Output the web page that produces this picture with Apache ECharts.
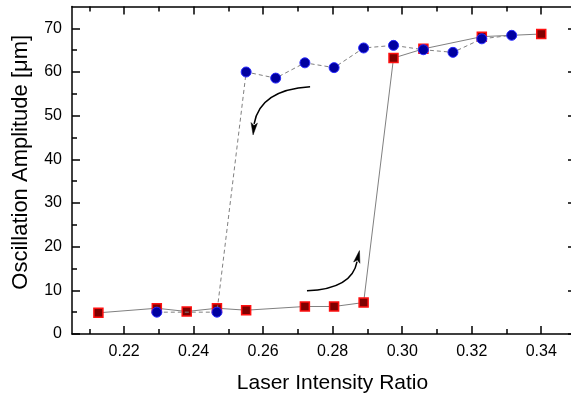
<!DOCTYPE html>
<html>
<head>
<meta charset="utf-8">
<script src="https://cdn.jsdelivr.net/npm/echarts@6/dist/echarts.min.js"></script>
<style>html,body{margin:0;padding:0;background:#fff;}#c{width:571px;height:398px;}</style>
</head>
<body>
<div id="c"></div>
<script>
// ---- data ----
const redX = [0.2126, 0.2294, 0.2380, 0.2467, 0.2551, 0.2720, 0.2804, 0.2889, 0.2975, 0.3061, 0.3229, 0.3400];
const redY = [4.85, 5.9, 5.15, 5.9, 5.45, 6.3, 6.3, 7.2, 63.2, 65.3, 68.1, 68.7];
const blueX = [0.2294, 0.2467, 0.2551, 0.2636, 0.2720, 0.2804, 0.2889, 0.2975, 0.3061, 0.3146, 0.3229, 0.3315];
const blueY = [5.0, 5.0, 60.0, 58.6, 62.1, 61.0, 65.5, 66.1, 65.1, 64.5, 67.6, 68.4];
const xMajorTicks = [0.22, 0.24, 0.26, 0.28, 0.30, 0.32, 0.34];
const xMinorTicks = [0.21, 0.23, 0.25, 0.27, 0.29, 0.31, 0.33];
const yMajorTicks = [0, 10, 20, 30, 40, 50, 60, 70];
const yMinorTicks = [5, 15, 25, 35, 45, 55, 65];
const xTitle = 'Laser Intensity Ratio';
const yTitle = 'Oscillation Amplitude [\u03BCm]';
// annotation arrows in data coordinates: start, control, arrow base, tip
const arrowDown = [[0.2735, 56.6], [0.2591, 55.9], [0.2574, 48.1], [0.2571, 45.6]];
const arrowUp = [[0.2726, 9.9], [0.2856, 10.35], [0.2870, 16.6], [0.2877, 19.1]];

const FONT = '"Liberation Sans", Arial, sans-serif';
const XMIN = 0.205, XMAX = 0.35, YMIN = 0, YMAX = 75;

function xAxisDef(pos, ticks, len, showLine, showLabel) {
  return {
    type: 'value', position: pos, min: XMIN, max: XMAX, offset: 0,
    axisLine: { show: showLine, onZero: false, lineStyle: { color: '#000', width: 1.5 } },
    axisTick: { show: true, inside: true, length: len, customValues: ticks, lineStyle: { color: '#000', width: 1.5 } },
    axisLabel: { show: showLabel, customValues: ticks, margin: 10, color: '#000', fontFamily: FONT, fontSize: 16,
                 formatter: v => v.toFixed(2) },
    splitLine: { show: false }
  };
}
function yAxisDef(pos, ticks, len, showLine, showLabel) {
  return {
    type: 'value', position: pos, min: YMIN, max: YMAX, offset: 0,
    axisLine: { show: showLine, onZero: false, lineStyle: { color: '#000', width: 1.5 } },
    axisTick: { show: true, inside: true, length: len, customValues: ticks, lineStyle: { color: '#000', width: 1.5 } },
    axisLabel: { show: showLabel, customValues: ticks, margin: 10, color: '#000', fontFamily: FONT, fontSize: 16 },
    splitLine: { show: false }
  };
}

const xa0 = xAxisDef('bottom', xMajorTicks, 8, true, true);
xa0.name = xTitle; xa0.nameLocation = 'middle'; xa0.nameGap = 39;
xa0.nameTextStyle = { fontFamily: FONT, fontSize: 21, color: '#000', padding: [0, 0, 0, 17] };
const ya0 = yAxisDef('left', yMajorTicks, 8, true, true);
ya0.name = yTitle; ya0.nameLocation = 'middle'; ya0.nameGap = 40;
ya0.nameTextStyle = { fontFamily: FONT, fontSize: 22, color: '#000', padding: [0, 0, 0, 16] };

const chart = echarts.init(document.getElementById('c'), null, { renderer: 'canvas' });
chart.setOption({
  animation: false,
  backgroundColor: '#fff',
  grid: { left: 72, width: 504, top: 6.5, height: 327.5, containLabel: false, outerBoundsMode: 'none' },
  xAxis: [
    xa0,
    xAxisDef('bottom', xMinorTicks, 5, false, false),
    xAxisDef('top', xMajorTicks, 8, true, false),
    xAxisDef('top', xMinorTicks, 5, false, false)
  ],
  yAxis: [
    ya0,
    yAxisDef('left', yMinorTicks, 5, false, false),
    yAxisDef('right', yMajorTicks, 8, true, false),
    yAxisDef('right', yMinorTicks, 5, false, false)
  ],
  series: [
    {
      type: 'line', xAxisIndex: 0, yAxisIndex: 0,
      data: redX.map((x, i) => [x, redY[i]]),
      symbol: 'rect', symbolSize: 9,
      itemStyle: { color: '#800000', borderColor: '#ff1010', borderWidth: 1.5 },
      lineStyle: { color: '#808080', width: 1, type: 'solid' },
      z: 2
    },
    {
      type: 'line', xAxisIndex: 0, yAxisIndex: 0,
      data: blueX.map((x, i) => [x, blueY[i]]),
      symbol: 'circle', symbolSize: 10,
      itemStyle: { color: '#0000a0', borderColor: '#2a2aff', borderWidth: 1 },
      lineStyle: { color: '#808080', width: 1, type: [4, 3] },
      z: 3
    }
  ]
});

function arrowGraphics(pts) {
  const p = pts.map(d => chart.convertToPixel({ xAxisIndex: 0, yAxisIndex: 0 }, d));
  const [s, c, b, t] = p;
  const dx = t[0] - b[0], dy = t[1] - b[1];
  const L = Math.hypot(dx, dy) || 1;
  const nx = -dy / L * 3.2, ny = dx / L * 3.2;
  return [
    { type: 'bezierCurve', silent: true, z: 10,
      shape: { x1: s[0], y1: s[1], cpx1: c[0], cpy1: c[1], x2: b[0], y2: b[1] },
      style: { stroke: '#000', lineWidth: 1.5, fill: null } },
    { type: 'polygon', silent: true, z: 10,
      shape: { points: [t, [b[0] + nx - dx * 0.1, b[1] + ny - dy * 0.1], [b[0] + dx * 0.15, b[1] + dy * 0.15], [b[0] - nx - dx * 0.1, b[1] - ny - dy * 0.1]] },
      style: { fill: '#000', stroke: '#000', lineWidth: 0.5 } }
  ];
}
chart.setOption({ graphic: arrowGraphics(arrowDown).concat(arrowGraphics(arrowUp)) });
</script>
</body>
</html>
